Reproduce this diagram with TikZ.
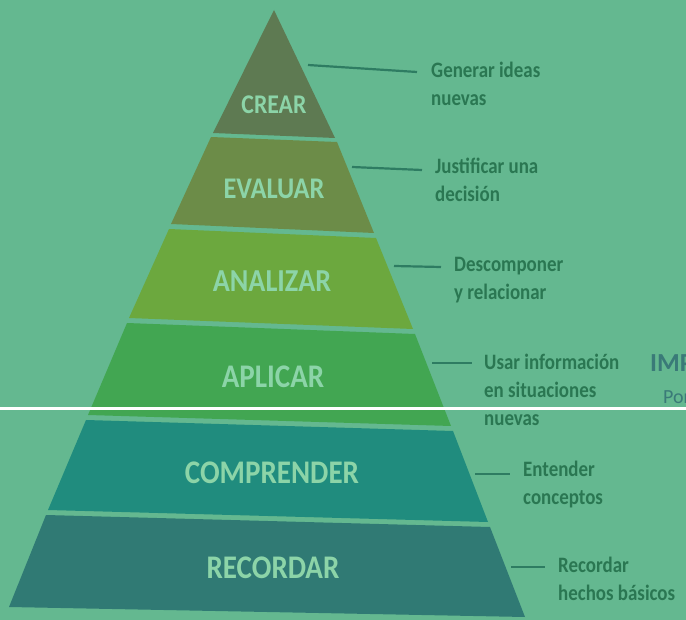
\documentclass[tikz,border=0pt]{standalone}
\usepackage{fontspec}
\setmainfont{Carlito}
\newfontfamily\lblfont[FakeStretch=0.88]{Carlito}
\newfontfamily\descfont[FakeStretch=0.86]{Carlito}
\definecolor{bg}{HTML}{64B890}
\definecolor{fcrear}{HTML}{5E7A52}
\definecolor{feval}{HTML}{6C8C48}
\definecolor{fanal}{HTML}{6CA83E}
\definecolor{fapli}{HTML}{42A652}
\definecolor{fcomp}{HTML}{208C7E}
\definecolor{freco}{HTML}{307A74}
\definecolor{lbltext}{HTML}{8CD4A8}
\definecolor{desctext}{HTML}{2A7752}
\definecolor{conn}{HTML}{2E7C62}
\definecolor{imptext}{HTML}{3A7A78}
\begin{document}
\begin{tikzpicture}[x=1pt,y=-1pt,
  layerlabel/.style={text=lbltext, inner sep=0pt},
  desc/.style={text=desctext, font=\descfont\bfseries\fontsize{22}{28}\selectfont, align=left, anchor=west, inner sep=0pt},
  connector/.style={draw=conn, line width=2.2pt},
  cut/.style={text=imptext, inner sep=0pt, anchor=west}]
\useasboundingbox (0,0) rectangle (686,620);
\clip (0,0) rectangle (686,620);
\fill[bg] (0,0) rectangle (686,620);
% layers
\fill[fcrear] (274,10) -- (335,138) -- (213,133) -- cycle;
\fill[feval] (211,137) -- (337,142) -- (374,233) -- (171,224) -- cycle;
\fill[fanal] (169,229) -- (376,238) -- (413,329) -- (129,318) -- cycle;
\fill[fapli] (127,323) -- (415,334) -- (451,426) -- (88,415) -- cycle;
\fill[fcomp] (86,420) -- (453,431) -- (488,522) -- (48,510) -- cycle;
\fill[freco] (46,515) -- (490,527) -- (525,617) -- (9,607) -- cycle;
% layer labels
\node[layerlabel, font=\lblfont\bfseries\fontsize{27}{27}\selectfont] (crear) at (274,105) {CREAR};
\node[layerlabel, font=\lblfont\bfseries\fontsize{30}{30}\selectfont] (evaluar) at (274,189) {EVALUAR};
\node[layerlabel, font=\lblfont\bfseries\fontsize{32}{32}\selectfont] (analizar) at (272,281) {ANALIZAR};
\node[layerlabel, font=\lblfont\bfseries\fontsize{33}{33}\selectfont] (aplicar) at (273,377) {APLICAR};
\node[layerlabel, font=\lblfont\bfseries\fontsize{33}{33}\selectfont] (comprender) at (272,473) {COMPRENDER};
\node[layerlabel, font=\lblfont\bfseries\fontsize{33}{33}\selectfont] (recordar) at (273,568) {RECORDAR};
% descriptions
\node[desc] (dcrear) at (431,84) {Generar ideas\\nuevas};
\node[desc] (deval) at (435,180) {Justificar una\\decisión};
\node[desc] (danal) at (454,280) {Descomponer\\y relacionar};
\node[desc] (dapli) at (484,390) {Usar información\\en situaciones\\nuevas};
\node[desc] (dcomp) at (523,485) {Entender\\conceptos};
\node[desc] (dreco) at (558,579) {Recordar\\hechos básicos};
% connectors
\coordinate (c1a) at (308,65); \coordinate (c1b) at (417,72);
\coordinate (c2a) at (352,167); \coordinate (c2b) at (422,170);
\coordinate (c3a) at (394,266); \coordinate (c3b) at (441,267);
\coordinate (c4a) at (432,363); \coordinate (c4b) at (472,363);
\coordinate (c5a) at (475,474); \coordinate (c5b) at (510,474);
\coordinate (c6a) at (511,567); \coordinate (c6b) at (545,567);
\draw[connector] (c1a) -- (c1b);
\draw[connector] (c2a) -- (c2b);
\draw[connector] (c3a) -- (c3b);
\draw[connector] (c4a) -- (c4b);
\draw[connector] (c5a) -- (c5b);
\draw[connector] (c6a) -- (c6b);
% cut-off text at the right edge (as in the reference)
\node[cut, font=\bfseries\fontsize{26}{26}\selectfont] (imp) at (650,363) {IMP};
\node[cut, font=\fontsize{20}{20}\selectfont] (por) at (663,397) {Por};
% white line across
\coordinate (wl) at (0,409); \coordinate (wr) at (686,409);
\draw[white, line width=3pt] (wl) -- (wr);
\end{tikzpicture}
\end{document}
